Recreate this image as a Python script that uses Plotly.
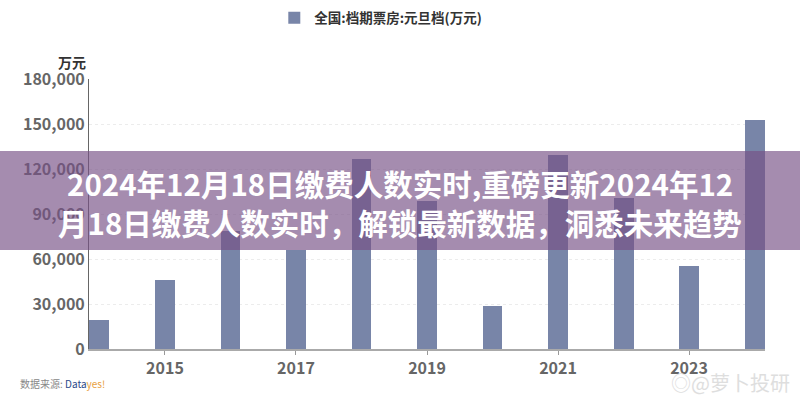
import plotly.graph_objects as go

years = [2014, 2015, 2016, 2017, 2018, 2019, 2020, 2021, 2022, 2023, 2024]
box_office = [19500, 45800, 79000, 66000, 127000, 99000, 29000, 129500, 101000, 55500, 153000]
series_name = "全国:档期票房:元旦档(万元)"
y_ticks = [0, 30000, 60000, 90000, 120000, 150000, 180000]
banner_line1 = "2024年12月18日缴费人数实时,重磅更新2024年12"
banner_line2 = "月18日缴费人数实时，解锁最新数据，洞悉未来趋势"

FONT = "Noto Sans CJK SC"
BAR = "#7885a8"

fig = go.Figure()
fig.add_trace(go.Bar(
    x=years, y=box_office, name=series_name,
    marker=dict(color=BAR, line=dict(width=0)),
    width=0.305, showlegend=True,
))

W, H = 800, 400
ml, mr, mt, mb = 89, 35, 79, 51
pw = W - ml - mr
ph = H - mt - mb

def py(p):
    return (H - mb - p) / ph

def px(p):
    return (p - ml) / pw

fig.update_layout(
    width=W, height=H,
    margin=dict(l=ml, r=mr, t=mt, b=mb, autoexpand=False),
    paper_bgcolor="white", plot_bgcolor="white",
    font=dict(family=FONT, color="#666"),
    bargap=0,
    legend=dict(
        orientation="h", xref="container", yref="container",
        x=0.476, y=0.955, xanchor="center", yanchor="middle",
        font=dict(size=13.5, color="#333", family=FONT, weight="bold"),
        itemwidth=30, itemsizing="constant",
    ),
    xaxis=dict(
        range=[2013.84, 2024.16], tick0=2015, dtick=2,
        showgrid=False, ticks="outside", ticklen=4, tickcolor="#999",
        showline=True, linecolor="#aaa", linewidth=2,
        tickfont=dict(size=16, color="#666", family=FONT, weight="bold"),
        zeroline=False, automargin=False,
    ),
    yaxis=dict(
        range=[0, 180000], tickvals=y_ticks,
        ticktext=[f"{v:,}" for v in y_ticks],
        showgrid=True, gridcolor="#ececec", griddash="dot", gridwidth=1,
        showline=True, linecolor="#666", linewidth=1,
        tickfont=dict(size=16, color="#666", family=FONT, weight="bold"),
        ticks="", ticklabelstandoff=0,
        zeroline=False, automargin=False,
    ),
)

# y-axis unit label
fig.add_annotation(
    text="万元", xref="paper", yref="paper", x=px(88), y=py(62),
    xanchor="right", yanchor="middle", showarrow=False,
    font=dict(size=14, color="#333", family=FONT, weight="bold"),
)

# purple banner overlay
fig.add_shape(
    type="rect", xref="paper", yref="paper",
    x0=px(-5), x1=px(805), y0=py(250), y1=py(151),
    fillcolor="rgba(118,80,133,0.66)", line=dict(width=0), layer="above",
)
for txt, yc in ((banner_line1, 183), (banner_line2, 222)):
    fig.add_annotation(
        text=txt, xref="paper", yref="paper", x=px(400), y=py(yc),
        xanchor="center", yanchor="middle", showarrow=False, align="center",
        font=dict(size=29.5, color="white", family=FONT, weight="bold"),
    )

# source watermark
fig.add_annotation(
    text="数据来源: <span style='color:#2b4a8a'>Data</span><span style='color:#e8a040'>yes!</span>",
    xref="paper", yref="paper", x=px(18), y=py(383),
    xanchor="left", yanchor="middle", showarrow=False,
    font=dict(size=10, color="#888", family=FONT),
)
fig.add_annotation(
    text="◎@萝卜投研", xref="paper", yref="paper", x=px(792), y=py(382),
    xanchor="right", yanchor="middle", showarrow=False,
    font=dict(size=20, color="#dedede", family=FONT),
)

fig.write_html("out.html", config={"displayModeBar": False},
               post_script="document.body.style.margin='0';")
